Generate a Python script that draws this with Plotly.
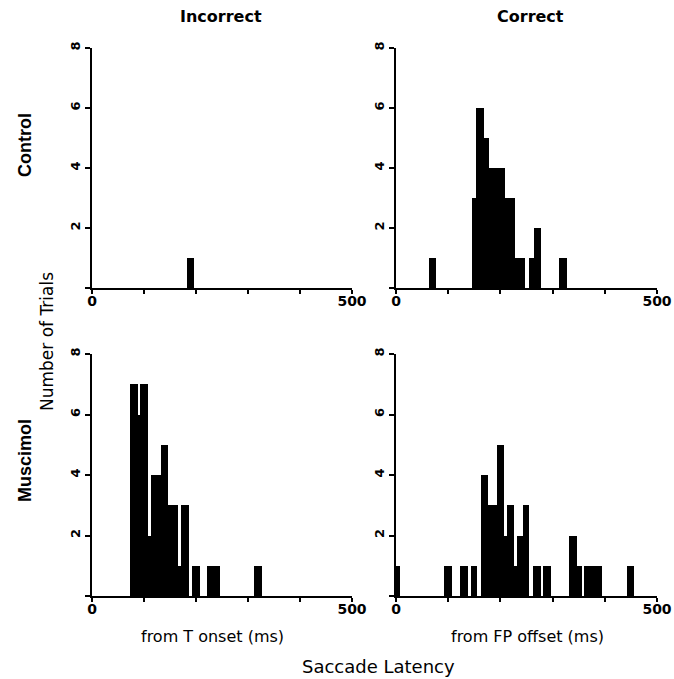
import numpy as np
import plotly.graph_objects as go

W, H = 674, 679

# ---- data: latency bins (ms) and number of trials ----
ctrl_incorrect_left = [183]
ctrl_incorrect_right = [196]
ctrl_incorrect_count = [1]

ctrl_correct_left = [64, 145, 154, 168, 178, 209, 228, 254, 264, 313]
ctrl_correct_right = [77, 154, 168, 178, 209, 228, 248, 264, 278, 327]
ctrl_correct_count = [1, 3, 6, 5, 4, 3, 1, 1, 2, 1]

musc_incorrect_left = [73, 89, 93, 107, 113, 133, 147, 166, 171, 192, 222, 311]
musc_incorrect_right = [89, 93, 107, 113, 133, 147, 166, 171, 186, 207, 247, 326]
musc_incorrect_count = [7, 6, 7, 2, 4, 5, 3, 1, 3, 1, 1, 1]

musc_correct_left = [0, 92, 122, 143, 162, 177, 193, 207, 213, 227, 232, 243, 262, 282, 332, 346, 361, 378, 442]
musc_correct_right = [8, 107, 137, 156, 177, 193, 207, 213, 227, 232, 243, 255, 278, 296, 346, 357, 378, 395, 456]
musc_correct_count = [1, 1, 1, 1, 4, 3, 5, 2, 3, 1, 2, 3, 1, 1, 2, 1, 1, 1, 1]

x_tick_vals = [0, 100, 200, 300, 400, 500]
x_tick_text = ["0", "", "", "", "", "500"]
y_tick_vals = [0, 2, 4, 6, 8]
y_tick_text = ["", "2", "4", "6", "8"]

col_titles = ["Incorrect", "Correct"]
row_titles = ["Control", "Muscimol"]
x_sublabels = ["from T onset (ms)", "from FP offset (ms)"]

panels = [
    (ctrl_incorrect_left, ctrl_incorrect_right, ctrl_incorrect_count),
    (ctrl_correct_left, ctrl_correct_right, ctrl_correct_count),
    (musc_incorrect_left, musc_incorrect_right, musc_incorrect_count),
    (musc_correct_left, musc_correct_right, musc_correct_count),
]

# ---- layout geometry (pixels) ----
col_px = [(92, 352), (396, 657)]
row_px = [(48, 288), (354, 596)]

def px_x(p):
    return p / W

def px_y(p):
    return 1 - p / H

fig = go.Figure()
FONT = "DejaVu Sans"

for i, (lft, rgt, cnt) in enumerate(panels):
    r, c = divmod(i, 2)
    lft = np.array(lft, float)
    rgt = np.array(rgt, float)
    n = i + 1
    xa = "x" if n == 1 else f"x{n}"
    ya = "y" if n == 1 else f"y{n}"
    fig.add_trace(go.Bar(
        x=(lft + rgt) / 2, y=cnt, width=rgt - lft,
        marker=dict(color="black", line=dict(width=0)),
        xaxis=xa, yaxis=ya, showlegend=False, hoverinfo="skip",
    ))
    xkey = "xaxis" if n == 1 else f"xaxis{n}"
    ykey = "yaxis" if n == 1 else f"yaxis{n}"
    x0, x1 = col_px[c]
    y0, y1 = row_px[r]
    fig.layout[xkey] = dict(
        domain=[px_x(x0), px_x(x1)], range=[0, 500], anchor=ya,
        showline=True, linecolor="black", linewidth=2,
        ticks="outside", ticklen=4, tickwidth=1.5, tickcolor="black",
        tickvals=x_tick_vals, ticktext=x_tick_text, ticklabelstandoff=-5,
        tickfont=dict(family=FONT, size=14, color="black", weight="bold"),
        showgrid=False, zeroline=False, fixedrange=True, automargin=False,
    )
    fig.layout[ykey] = dict(
        domain=[px_y(y1), px_y(y0)], range=[0, 8], anchor=xa,
        showline=True, linecolor="black", linewidth=2,
        ticks="outside", ticklen=5, tickwidth=1.5, tickcolor="black",
        tickvals=y_tick_vals, ticktext=y_tick_text, tickangle=-90,
        tickfont=dict(family=FONT, size=13, color="black", weight="bold"),
        showgrid=False, zeroline=False, fixedrange=True, automargin=False,
    )

def note(text, x, y, size, angle=0, bold=False, family=FONT):
    return dict(text=text, x=px_x(x), y=px_y(y), textangle=angle,
                xref="paper", yref="paper", showarrow=False,
                xanchor="center", yanchor="middle",
                font=dict(family=family, size=size, color="black",
                          weight="bold" if bold else "normal"))

ann = []
title_x = [221, 530]
for c, t in enumerate(col_titles):
    ann.append(note(t, title_x[c], 16, 16, bold=True))
sub_x = [213, 527]
for c, t in enumerate(x_sublabels):
    ann.append(note(t, sub_x[c], 636, 16))
row_centers = [145, 460]
for r, t in enumerate(row_titles):
    ann.append(note(t, 25, row_centers[r], 18, angle=-90, bold=True,
                    family="Liberation Sans"))
ann.append(note("Number of Trials", 47, 342, 17, angle=-90))
ann.append(note("Saccade Latency", 378, 666, 18))

fig.update_layout(
    width=W, height=H, margin=dict(l=0, r=0, t=0, b=0, autoexpand=False),
    paper_bgcolor="white", plot_bgcolor="white",
    bargap=0, annotations=ann,
)

fig.write_html("out.html", config={"displayModeBar": False},
               post_script="document.body.style.margin='0px';")
